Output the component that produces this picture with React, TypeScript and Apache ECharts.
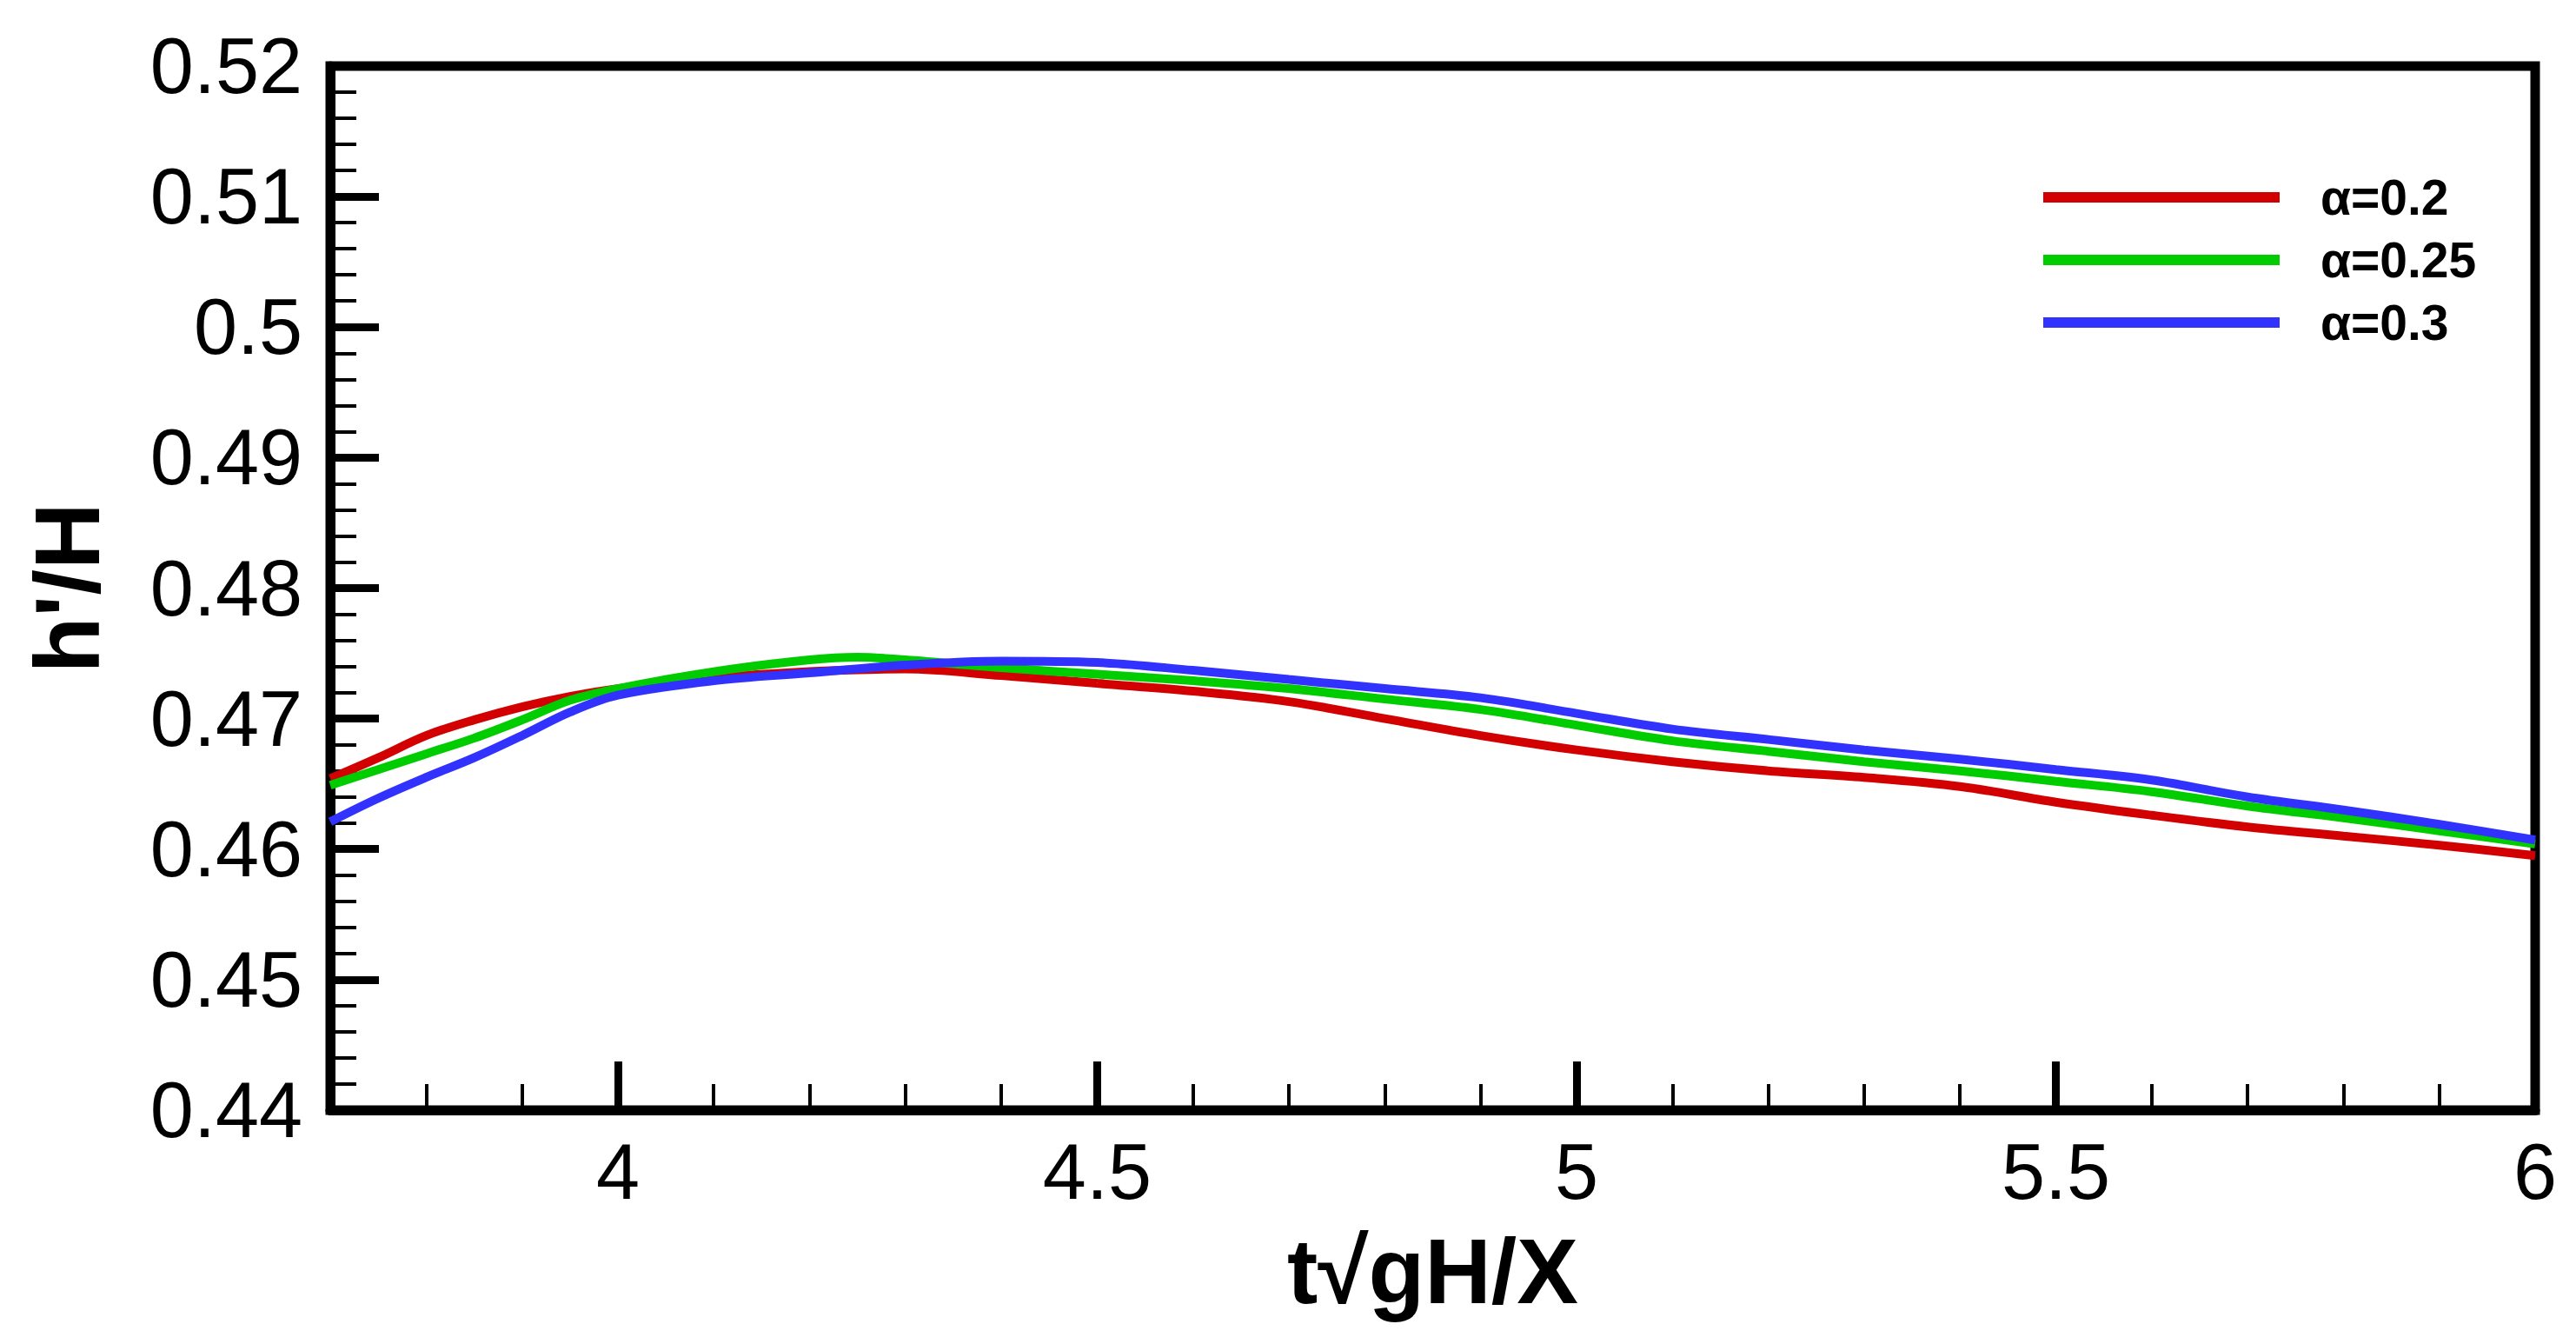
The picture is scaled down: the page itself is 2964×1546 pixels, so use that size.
import React, { useEffect, useRef } from "react";
import * as echarts from "echarts";

const W = 2964;
const H = 1546;

const seriesNames = ["α=0.2", "α=0.25", "α=0.3"];
const seriesColors = ["#d20000", "#00cc00", "#3232ff"];

const xRed = [3.7, 3.75, 3.8, 3.85, 3.9, 3.95, 4.0, 4.1, 4.2, 4.3, 4.4, 4.5, 4.6, 4.7, 4.8, 4.9, 5.0, 5.1, 5.2, 5.3, 5.4, 5.5, 5.6, 5.7, 5.8, 5.9, 6.0];
const yRed = [0.4654, 0.4670, 0.4687, 0.4699, 0.4709, 0.4717, 0.4723, 0.4731, 0.4736, 0.4738, 0.4733, 0.4727, 0.4721, 0.4713, 0.4700, 0.4687, 0.4676, 0.4667, 0.4660, 0.4655, 0.4648, 0.4636, 0.4626, 0.4617, 0.4610, 0.4603, 0.4595];

const xGreen = [3.7, 3.75, 3.8, 3.85, 3.9, 3.95, 4.0, 4.1, 4.2, 4.25, 4.3, 4.4, 4.5, 4.6, 4.7, 4.8, 4.9, 5.0, 5.1, 5.2, 5.3, 5.4, 5.5, 5.6, 5.7, 5.8, 5.9, 6.0];
const yGreen = [0.4649, 0.4661, 0.4673, 0.4685, 0.4699, 0.4714, 0.4723, 0.4736, 0.4745, 0.4747, 0.4745, 0.4739, 0.4734, 0.4729, 0.4723, 0.4715, 0.4707, 0.4695, 0.4683, 0.4675, 0.4667, 0.4660, 0.4652, 0.4644, 0.4633, 0.4624, 0.4614, 0.4604];

const xBlue = [3.7, 3.75, 3.8, 3.85, 3.9, 3.95, 4.0, 4.1, 4.2, 4.3, 4.4, 4.5, 4.6, 4.7, 4.8, 4.9, 5.0, 5.1, 5.2, 5.3, 5.4, 5.5, 5.6, 5.7, 5.8, 5.9, 6.0];
const yBlue = [0.4621, 0.4639, 0.4655, 0.4670, 0.4687, 0.4705, 0.4718, 0.4729, 0.4735, 0.4741, 0.4744, 0.4743, 0.4737, 0.4730, 0.4723, 0.4716, 0.4704, 0.4692, 0.4684, 0.4676, 0.4669, 0.4661, 0.4653, 0.4640, 0.4630, 0.4619, 0.4607];

const xMajorTicks = [4, 4.5, 5, 5.5, 6];
const xMinorTicks = [3.8, 3.9, 4.1, 4.2, 4.3, 4.4, 4.6, 4.7, 4.8, 4.9, 5.1, 5.2, 5.3, 5.4, 5.6, 5.7, 5.8, 5.9];
const xMin = 3.7;
const xMax = 6;
const yMin = 0.44;
const yMax = 0.52;
const yStep = 0.01;

const FONT = "'Liberation Sans', Arial, sans-serif";

function pairs(xs: number[], ys: number[]) {
  return xs.map((x, i) => [x, ys[i]]);
}

export default function App() {
  const ref = useRef<HTMLDivElement>(null);
  useEffect(() => {
    document.body.style.margin = "0";
    const chart = echarts.init(ref.current!, null, { renderer: "svg" });
    const datas = [pairs(xRed, yRed), pairs(xGreen, yGreen), pairs(xBlue, yBlue)];
    chart.setOption({
      animation: false,
      backgroundColor: "#ffffff",
      grid: {
        left: 380,
        right: 47,
        top: 76,
        bottom: 269,
        show: true,
        borderColor: "#000",
        borderWidth: 11,
        containLabel: false,
      },
      legend: {
        orient: "vertical",
        left: 2346,
        top: 192,
        icon: "rect",
        itemWidth: 272,
        itemHeight: 12,
        itemGap: 12,
        data: seriesNames,
        textStyle: {
          fontFamily: FONT,
          fontWeight: "bold",
          fontSize: 57,
          lineHeight: 60,
          color: "#000",
          padding: [0, 0, 0, 42],
        },
      },
      xAxis: [
        {
          type: "value",
          min: xMin,
          max: xMax,
          position: "bottom",
          splitLine: { show: false },
          axisLine: { show: true, lineStyle: { color: "#000", width: 11 } },
          axisTick: {
            show: true,
            inside: true,
            length: 56,
            lineStyle: { color: "#000", width: 9 },
            customValues: xMajorTicks,
          },
          axisLabel: {
            show: true,
            customValues: xMajorTicks,
            fontFamily: FONT,
            fontSize: 90,
            color: "#000",
            margin: 26,
          },
          name: "t√gH/X",
          nameLocation: "middle",
          nameGap: 132,
          nameTextStyle: {
            fontFamily: FONT,
            fontWeight: "bold",
            fontSize: 106,
            color: "#000",
          },
        },
        {
          type: "value",
          min: xMin,
          max: xMax,
          position: "bottom",
          splitLine: { show: false },
          axisLine: { show: false },
          axisTick: {
            show: true,
            inside: true,
            length: 30,
            lineStyle: { color: "#000", width: 4 },
            customValues: xMinorTicks,
          },
          axisLabel: { show: false },
        },
      ],
      yAxis: {
        type: "value",
        min: yMin,
        max: yMax,
        interval: yStep,
        splitLine: { show: false },
        axisLine: { show: true, lineStyle: { color: "#000", width: 11 } },
        axisTick: {
          show: true,
          inside: true,
          length: 56,
          lineStyle: { color: "#000", width: 9 },
        },
        minorTick: {
          show: true,
          splitNumber: 5,
          length: 30,
          lineStyle: { color: "#000", width: 4 },
        },
        axisLabel: {
          fontFamily: FONT,
          fontSize: 90,
          color: "#000",
          margin: 32,
        },
        name: "h'/H",
        nameLocation: "middle",
        nameGap: 250,
        nameTextStyle: {
          fontFamily: FONT,
          fontWeight: "bold",
          fontSize: 106,
          color: "#000",
        },
      },
      series: seriesNames.map((name, i) => ({
        name,
        type: "line",
        xAxisIndex: 0,
        data: datas[i],
        smooth: 0.35,
        showSymbol: false,
        symbol: "none",
        lineStyle: { color: seriesColors[i], width: 10 },
        itemStyle: { color: seriesColors[i] },
        z: 2 + i,
      })),
    });
    return () => chart.dispose();
  }, []);
  return <div ref={ref} style={{ width: W, height: H }} />;
}
